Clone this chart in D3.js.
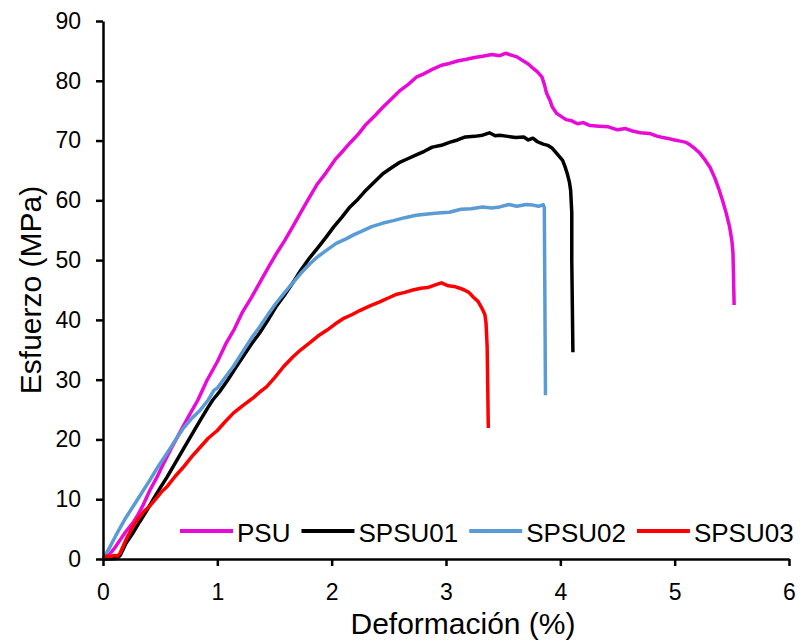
<!DOCTYPE html>
<html>
<head>
<meta charset="utf-8">
<script src="https://cdn.jsdelivr.net/npm/d3@7"></script>
<style>
  body { margin: 0; background: #fff; }
  svg { display: block; font-family: "Liberation Sans", Arial, sans-serif; }
</style>
</head>
<body>
<svg id="chart" width="804" height="642"></svg>
<script>
// tick labels
const xTicks = [0, 1, 2, 3, 4, 5, 6];
const yTicks = [0, 10, 20, 30, 40, 50, 60, 70, 80, 90];

// series names and colours
const seriesNames = ["PSU", "SPSU01", "SPSU02", "SPSU03"];
const seriesColors = ["#e80ad6", "#000000", "#5b9bd5", "#ff0000"];

// PSU  (deformation %, stress MPa)
const psuStrain = [0.00, 0.05, 0.10, 0.15, 0.20, 0.26, 0.30, 0.35, 0.41, 0.47, 0.53, 0.60, 0.67, 0.75, 0.83, 0.91,
  1.00, 1.08, 1.15, 1.22, 1.30, 1.37, 1.45, 1.52, 1.59, 1.66, 1.73, 1.79, 1.87, 1.95, 2.03, 2.10, 2.16, 2.23,
  2.30, 2.38, 2.45, 2.52, 2.60, 2.67, 2.74, 2.81, 2.89, 2.96, 3.03, 3.10, 3.18, 3.25, 3.32, 3.40, 3.47, 3.52,
  3.57, 3.62, 3.67, 3.72, 3.76, 3.80, 3.84, 3.86, 3.88, 3.91, 3.93, 3.97, 4.01, 4.05, 4.10, 4.15, 4.20, 4.26,
  4.34, 4.42, 4.50, 4.57, 4.63, 4.70, 4.78, 4.85, 4.93, 5.00, 5.05, 5.10, 5.14, 5.18, 5.22, 5.26, 5.31, 5.35,
  5.39, 5.42, 5.45, 5.48, 5.50, 5.51, 5.515, 5.52];
const psuStress = [0.0, 0.6, 1.8, 3.2, 4.6, 6.0, 7.2, 9.0, 11.5, 13.6, 16.0, 18.6, 21.1, 23.9, 26.6, 29.9,
  33.0, 36.2, 38.5, 41.3, 43.8, 46.2, 48.9, 51.2, 53.3, 55.6, 58.0, 60.0, 62.6, 64.6, 66.8, 68.3, 69.6, 71.0,
  72.7, 74.2, 75.6, 76.9, 78.4, 79.4, 80.6, 81.2, 82.0, 82.6, 82.9, 83.3, 83.6, 83.9, 84.1, 84.4, 84.2, 84.6,
  84.3, 84.0, 83.4, 82.8, 82.1, 81.5, 80.6, 79.4, 77.9, 76.7, 75.6, 74.5, 74.0, 73.5, 73.3, 72.8, 73.0, 72.5,
  72.4, 72.3, 71.8, 72.0, 71.6, 71.3, 71.2, 70.7, 70.4, 70.1, 69.9, 69.7, 69.2, 68.6, 67.9, 66.9, 65.5, 63.8,
  61.7, 59.9, 57.9, 55.6, 53.3, 51.2, 47.0, 42.5];

// SPSU01
const s01Strain = [0.00, 0.12, 0.15, 0.20, 0.26, 0.32, 0.38, 0.44, 0.50, 0.56, 0.63, 0.70, 0.77, 0.85, 0.92, 0.96,
  1.02, 1.09, 1.16, 1.23, 1.30, 1.37, 1.44, 1.51, 1.59, 1.66, 1.73, 1.80, 1.88, 1.95, 2.02, 2.09, 2.16, 2.23,
  2.30, 2.38, 2.45, 2.52, 2.59, 2.67, 2.74, 2.81, 2.88, 2.96, 3.03, 3.10, 3.17, 3.25, 3.32, 3.38, 3.43, 3.47,
  3.54, 3.61, 3.68, 3.72, 3.76, 3.80, 3.85, 3.89, 3.93, 3.97, 4.02, 4.04, 4.06, 4.08, 4.09, 4.10, 4.10, 4.11];
const s01Stress = [0.0, 0.1, 0.6, 2.6, 4.3, 6.2, 8.0, 10.0, 11.9, 13.7, 16.0, 18.3, 20.6, 23.2, 25.4, 26.6,
  28.0, 29.9, 32.0, 34.0, 36.0, 37.8, 39.9, 42.1, 44.2, 46.2, 48.3, 50.2, 52.1, 53.8, 55.6, 57.2, 58.9, 60.2,
  61.7, 63.2, 64.5, 65.4, 66.3, 67.0, 67.6, 68.2, 68.9, 69.2, 69.7, 70.1, 70.6, 70.7, 70.9, 71.3, 70.8, 70.9,
  70.7, 70.5, 70.6, 70.1, 70.4, 69.8, 69.4, 69.2, 68.7, 67.8, 66.7, 65.7, 64.5, 63.0, 61.7, 58.0, 50.0, 34.6];

// SPSU02
const s02Strain = [0.00, 0.06, 0.12, 0.19, 0.26, 0.33, 0.41, 0.48, 0.56, 0.63, 0.70, 0.78, 0.85, 0.92, 0.97, 1.00,
  1.05, 1.14, 1.22, 1.30, 1.37, 1.44, 1.51, 1.59, 1.66, 1.73, 1.81, 1.88, 1.96, 2.04, 2.13, 2.20, 2.27, 2.35,
  2.45, 2.54, 2.64, 2.74, 2.84, 2.93, 3.03, 3.13, 3.22, 3.32, 3.40, 3.47, 3.55, 3.62, 3.70, 3.76, 3.81, 3.85,
  3.86, 3.87];
const s02Stress = [0.0, 2.0, 4.2, 6.6, 8.7, 10.8, 13.2, 15.4, 17.7, 19.8, 21.8, 23.6, 24.9, 26.6, 28.2, 28.6,
  29.9, 32.2, 34.6, 37.0, 38.8, 40.8, 42.7, 44.6, 46.2, 47.8, 49.4, 50.6, 51.7, 52.8, 53.6, 54.3, 54.9, 55.6,
  56.2, 56.6, 57.1, 57.5, 57.7, 57.9, 58.0, 58.5, 58.6, 58.9, 58.7, 58.9, 59.3, 59.0, 59.3, 59.2, 59.0, 59.3,
  58.8, 27.4];

// SPSU03
const s03Strain = [0.00, 0.03, 0.06, 0.10, 0.13, 0.15, 0.20, 0.26, 0.31, 0.36, 0.41, 0.46, 0.51, 0.56, 0.63, 0.70,
  0.78, 0.85, 0.92, 1.00, 1.07, 1.14, 1.22, 1.31, 1.37, 1.43, 1.50, 1.58, 1.66, 1.73, 1.81, 1.88, 1.96, 2.03,
  2.10, 2.18, 2.25, 2.33, 2.42, 2.50, 2.57, 2.64, 2.71, 2.78, 2.84, 2.90, 2.96, 3.02, 3.07, 3.12, 3.16, 3.20,
  3.24, 3.28, 3.31, 3.34, 3.35, 3.36, 3.37];
const s03Stress = [0.0, 0.5, 0.4, 0.6, 0.5, 1.0, 3.2, 5.4, 6.8, 8.0, 8.9, 10.0, 11.2, 12.1, 13.8, 15.3,
  17.2, 18.7, 20.2, 21.5, 23.0, 24.4, 25.6, 26.9, 27.9, 28.8, 30.3, 32.2, 33.8, 35.0, 36.2, 37.3, 38.3, 39.3,
  40.2, 40.9, 41.6, 42.3, 43.0, 43.7, 44.3, 44.6, 45.0, 45.3, 45.4, 45.8, 46.2, 45.7, 45.6, 45.3, 45.0, 44.6,
  43.8, 43.1, 42.1, 40.9, 39.5, 35.5, 21.9];

const seriesStrain = [psuStrain, s01Strain, s02Strain, s03Strain];
const seriesStress = [psuStress, s01Stress, s02Stress, s03Stress];

const svg = d3.select("#chart");
const plot = { left: 103, right: 789, top: 21, bottom: 559 };

const xScale = d3.scaleLinear().domain([0, 6]).range([plot.left, plot.right]);
const yScale = d3.scaleLinear().domain([0, 90]).range([plot.bottom, plot.top]);

// curves first, axes on top
const lineGenerator = d3.line()
  .x((d) => xScale(d[0]))
  .y((d) => yScale(d[1]));

const series = seriesNames.map((name, i) => ({
  name: name,
  color: seriesColors[i],
  values: seriesStrain[i].map((v, j) => [v, seriesStress[i][j]])
}));

svg.append("g").attr("id", "lines")
  .selectAll("path")
  .data(series)
  .join("path")
  .attr("fill", "none")
  .attr("stroke", (d) => d.color)
  .attr("stroke-width", 3.5)
  .attr("stroke-linejoin", "round")
  .attr("d", (d) => lineGenerator(d.values));

// y-axis
const yAxis = svg.append("g")
  .attr("transform", `translate(${plot.left}, 0)`)
  .call(d3.axisLeft(yScale).tickValues(yTicks).tickFormat(d3.format("d"))
    .tickSize(7).tickSizeOuter(0).tickPadding(15));

// x-axis
const xAxis = svg.append("g")
  .attr("transform", `translate(0, ${plot.bottom})`)
  .call(d3.axisBottom(xScale).tickValues(xTicks).tickFormat(d3.format("d"))
    .tickSize(7).tickSizeOuter(0).tickPadding(18));

[xAxis, yAxis].forEach((ax) => {
  ax.select(".domain").attr("stroke", "#000").attr("stroke-width", 2.5);
  ax.selectAll(".tick line").attr("stroke", "#000").attr("stroke-width", 2.5);
  ax.selectAll(".tick text")
    .attr("fill", "#000")
    .style("font-size", "23px")
    .style("font-family", "'Liberation Sans', Arial, sans-serif");
});

// axis titles
svg.append("text")
  .attr("x", 463)
  .attr("y", 634)
  .attr("text-anchor", "middle")
  .style("font-size", "30px")
  .text("Deformación (%)");

svg.append("text")
  .attr("transform", `translate(41, ${(plot.top + plot.bottom) / 2}) rotate(-90)`)
  .attr("text-anchor", "middle")
  .style("font-size", "30px")
  .text("Esfuerzo (MPa)");

// legend along the bottom of the plot
const legend = svg.append("g").attr("id", "legend");
let lx = 180;
series.forEach((s) => {
  legend.append("line")
    .attr("x1", lx).attr("x2", lx + 53)
    .attr("y1", 531).attr("y2", 531)
    .attr("stroke", s.color)
    .attr("stroke-width", 4);
  const t = legend.append("text")
    .attr("x", lx + 57)
    .attr("y", 542)
    .style("font-size", "26px")
    .text(s.name);
  lx = lx + 57 + t.node().getComputedTextLength() + 11;
});
</script>
</body>
</html>
